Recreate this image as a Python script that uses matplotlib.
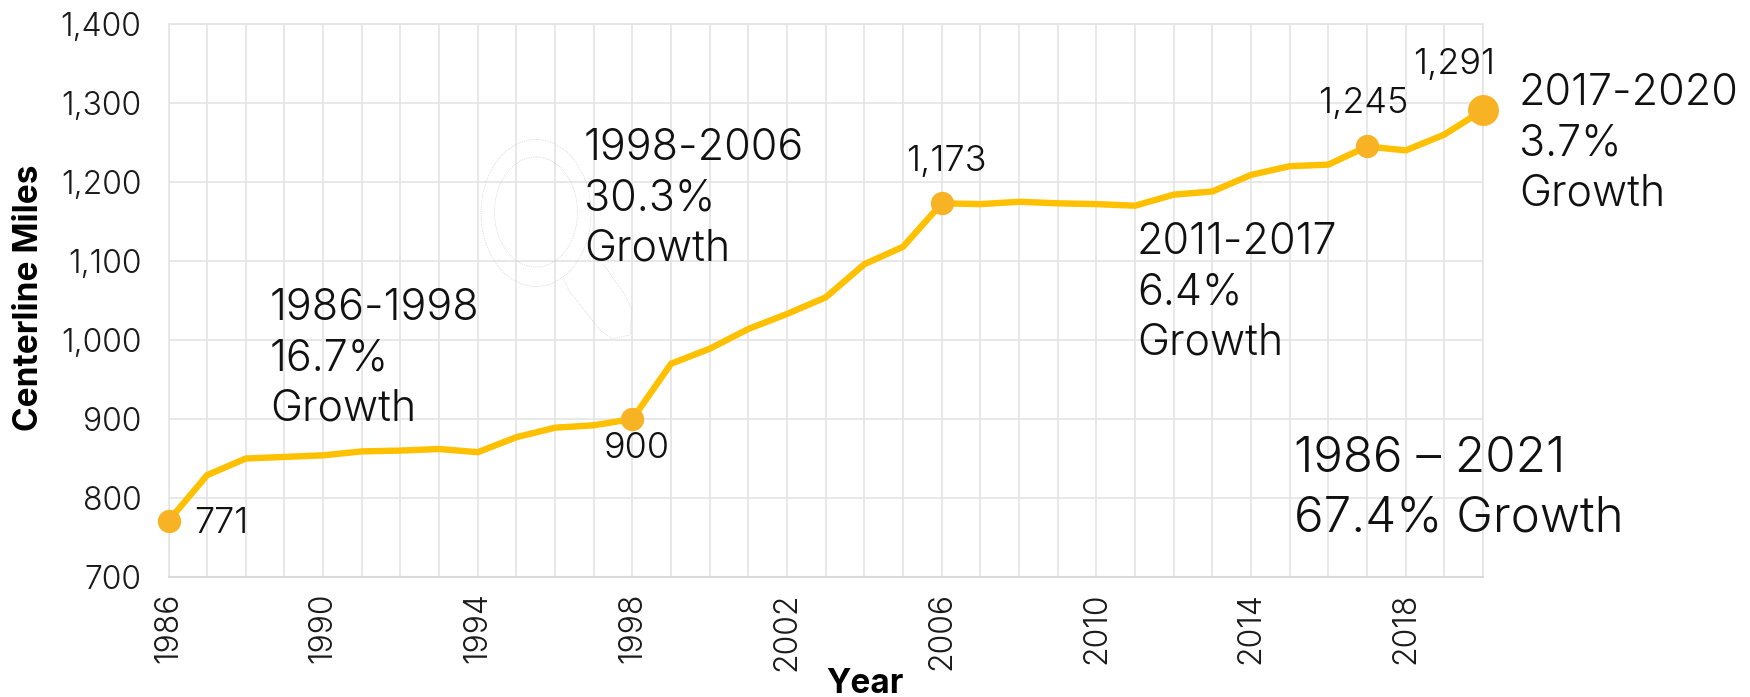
import matplotlib
matplotlib.use("Agg")
import matplotlib.pyplot as plt
from matplotlib.patches import Ellipse, PathPatch
from matplotlib.path import Path
from matplotlib.transforms import Affine2D

FIG_W, FIG_H = 1750, 697
plt.rcParams['font.family'] = ['Inter', 'DejaVu Sans']

years = list(range(1986, 2021))
miles = [771, 829, 850, 852, 854, 859, 860, 862, 858, 877, 889, 892, 900,
         970, 989, 1014, 1033, 1054, 1096, 1118, 1173, 1172, 1175, 1173,
         1172, 1170, 1184, 1188, 1209, 1220, 1222, 1245, 1240, 1260, 1291]
small_marker_years = [1986, 1998, 2006, 2017]
large_marker_years = [2020]
point_labels = [(1986, '771'), (1998, '900'), (2006, '1,173'), (2017, '1,245'), (2020, '1,291')]
point_label_px = {1986: (194, 507), 1998: (604, 432), 2006: (906, 145), 2017: (1318, 87), 2020: (1413, 48)}
notes = [('1986-1998\n16.7%\nGrowth', 270, 288),
         ('1998-2006\n30.3%\nGrowth', 584, 128),
         ('2011-2017\n6.4%\nGrowth', 1137, 222),
         ('2017-2020\n3.7%\nGrowth', 1519, 73)]
total_note = '1986 – 2021\n67.4% Growth'

fig = plt.figure(figsize=(FIG_W / 100, FIG_H / 100), dpi=100)
left, right, top, bottom = 168.5, 1483, 24, 577
ax = fig.add_axes([left / FIG_W, 1 - bottom / FIG_H, (right - left) / FIG_W, (bottom - top) / FIG_H])
px = Affine2D().scale(1, -1).translate(0, FIG_H)   # pixel coords, origin top-left

ax.plot(years, miles, color='#FFC000', lw=4.6, clip_on=False, zorder=3, solid_joinstyle='miter')
ax.plot(small_marker_years, [miles[years.index(y)] for y in small_marker_years], 'o',
        color='#F7B323', ms=16.8, mew=0, clip_on=False, zorder=4)
ax.plot(large_marker_years, [miles[years.index(y)] for y in large_marker_years], 'o',
        color='#F7B323', ms=22.3, mew=0, clip_on=False, zorder=4)

ax.set_xlim(1986, 2020)
ax.set_ylim(700, 1400)
ax.set_yticks(range(700, 1401, 100))
ax.set_yticklabels([f'{v:,}' for v in range(700, 1401, 100)], fontsize=23, fontweight=300, color='#1a1a1a')
ax.set_xticks(years, minor=False)
ax.set_xticklabels([str(y) if (y - 1986) % 4 == 0 else '' for y in years],
                   rotation=90, fontsize=23, fontweight=300, color='#1a1a1a')
ax.tick_params(axis='both', length=0)
ax.tick_params(axis='x', pad=11)
ax.tick_params(axis='y', pad=19.5)
ax.grid(True, color='#e4e4e4', lw=1.2, zorder=0)
ax.set_axisbelow(True)
for side in ['top', 'right', 'left']:
    ax.spines[side].set_color('#e4e4e4')
    ax.spines[side].set_linewidth(1.2)
ax.spines['bottom'].set_color('#d9d9d9')
ax.spines['bottom'].set_linewidth(1.5)

fig.text(29 / FIG_W, 1 - 298 / FIG_H, 'Centerline Miles', rotation=90, ha='center', va='center',
         fontsize=24, fontweight='bold', color='black')
fig.text(865 / FIG_W, 1 - 684 / FIG_H, 'Year', ha='center', va='center',
         fontsize=24, fontweight='bold', color='black')

for yr, lab in point_labels:
    x, y = point_label_px[yr]
    fig.text(x / FIG_W, 1 - y / FIG_H, lab, ha='left', va='top', fontsize=26, fontweight=300, color='#111111')
for txt, x, y in notes:
    fig.text(x / FIG_W, 1 - y / FIG_H, txt, ha='left', va='top', fontsize=31, fontweight=300,
             color='#111111', linespacing=1.285)
fig.text(1294 / FIG_W, 1 - 436 / FIG_H, total_note, ha='left', va='top', fontsize=35.5, fontweight=300,
         color='#111111', linespacing=1.365)

# faint magnifier outline
for cx, cy, w, h in [(536, 213, 110, 147), (536, 212, 83, 110)]:
    fig.add_artist(Ellipse((cx, cy), w, h, fill=False, ec='#c4c4c4', lw=0.5, ls=':', transform=px))
handle = Path([(563, 278), (570, 292), (600, 330), (612, 339), (630, 335), (632, 310), (625, 295), (603, 264)])
fig.add_artist(PathPatch(handle, fill=False, ec='#c4c4c4', lw=0.5, ls=':', transform=px))

fig.savefig('out.png', dpi=100, facecolor='white')
